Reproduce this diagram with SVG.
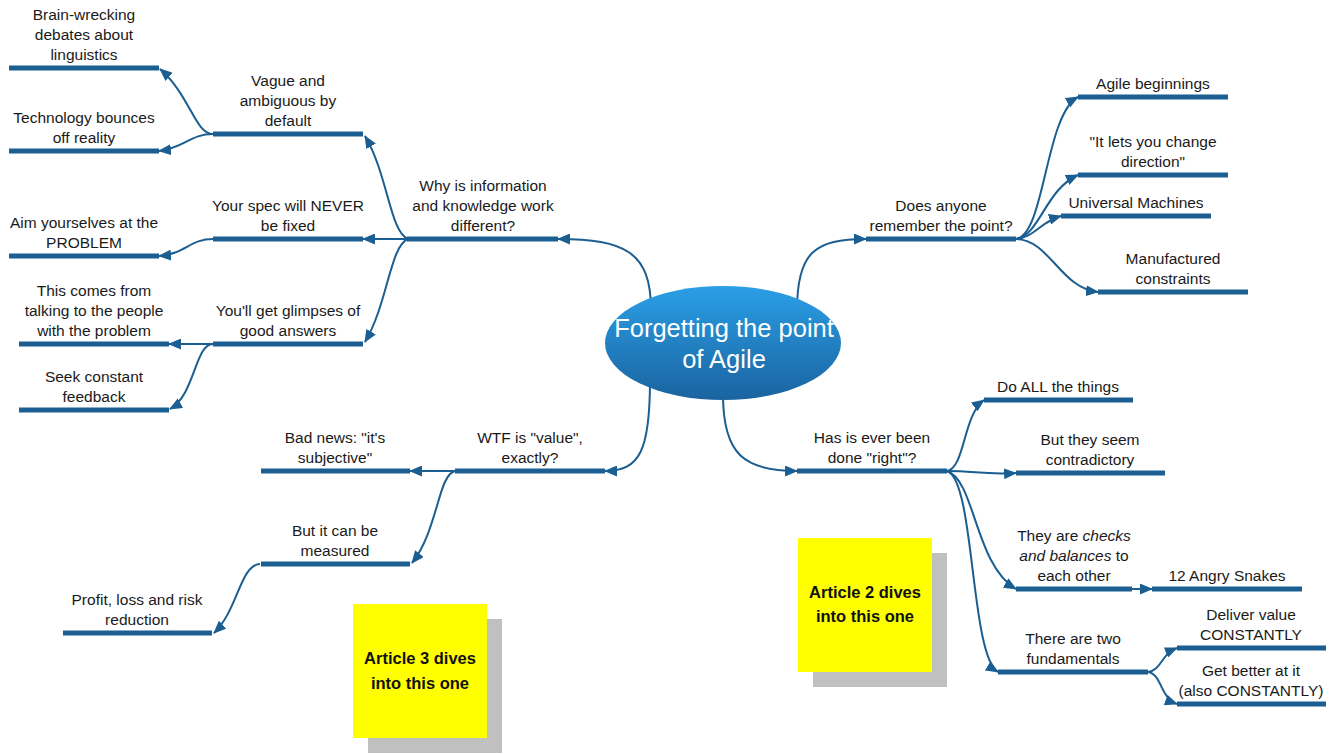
<svg xmlns="http://www.w3.org/2000/svg" width="1330" height="754" viewBox="0 0 1330 754">
<defs>
<linearGradient id="cg" x1="0" y1="0" x2="0" y2="1">
<stop offset="0" stop-color="#2b9fe6"/>
<stop offset="1" stop-color="#1a63a0"/>
</linearGradient>
<marker id="ah" viewBox="0 0 13 11" refX="12" refY="5.5" markerWidth="13" markerHeight="11" markerUnits="userSpaceOnUse" orient="auto">
<path d="M0,0 L13,5.5 L0,11 z" fill="#1b5e91"/>
</marker>
<style>
.c{fill:none;stroke:#1b5e91;stroke-width:2;marker-end:url(#ah)}
.b{stroke:#1b5e91;stroke-width:5}
.t{font-family:"Liberation Sans",Arial,sans-serif;font-size:15.5px;fill:#1a1a1a;text-anchor:middle}
.n{font-family:"Liberation Sans",Arial,sans-serif;font-size:16.5px;font-weight:bold;fill:#111;text-anchor:middle}
</style>
</defs>
<rect width="1330" height="754" fill="#fff"/>

<g id="connectors">
<path class="c" d="M651,310 C651,252 625,239 558,239"/>
<path class="c" d="M797,310 C797,252 815,239 866,239"/>
<path class="c" d="M650,380 C650,450 640,471 605,471"/>
<path class="c" d="M723,395 C723,455 745,471 797,471"/>
<path class="c" d="M408,239 C390,232 388,175 365,136"/>
<path class="c" d="M408,239 L363,239"/>
<path class="c" d="M408,239 C390,246 388,303 365,342"/>
<path class="c" d="M213,134 C195,134 190,95 160,69"/>
<path class="c" d="M213,134 C190,134 185,148 159,151"/>
<path class="c" d="M213,239 C190,239 185,254 159,256"/>
<path class="c" d="M213,344 L169,344"/>
<path class="c" d="M213,344 C195,344 195,395 170,409"/>
<path class="c" d="M455,471 L410,471"/>
<path class="c" d="M455,471 C438,475 438,530 412,563"/>
<path class="c" d="M260,564 C240,565 238,610 214,633"/>
<path class="c" d="M1016,239 C1045,235 1045,115 1078,97"/>
<path class="c" d="M1016,239 C1040,235 1045,190 1078,175"/>
<path class="c" d="M1016,239 C1035,237 1040,222 1061,216"/>
<path class="c" d="M1016,239 C1050,240 1060,288 1098,292"/>
<path class="c" d="M947,471 C965,468 963,415 984,400"/>
<path class="c" d="M947,471 C975,471 985,475 1016,473"/>
<path class="c" d="M947,471 C975,480 975,565 1016,589"/>
<path class="c" d="M947,471 C975,480 970,655 998,672"/>
<path class="c" d="M1132,589 L1152,589"/>
<path class="c" d="M1148,672 C1162,670 1160,655 1177,648"/>
<path class="c" d="M1148,672 C1162,674 1160,698 1177,704"/>
</g>

<g id="center">
<ellipse cx="723" cy="343" rx="118" ry="57" fill="url(#cg)"/>
<text x="724" y="337" font-family="Liberation Sans,Arial,sans-serif" font-size="25.5" fill="#fff" text-anchor="middle">Forgetting the point</text>
<text x="724" y="368" font-family="Liberation Sans,Arial,sans-serif" font-size="25.5" fill="#fff" text-anchor="middle">of Agile</text>
</g>

<g id="n-why"><line class="b" x1="407" y1="239" x2="558" y2="239"/>
<text class="t" x="483" y="191">Why is information</text><text class="t" x="483" y="211">and knowledge work</text><text class="t" x="483" y="231">different?</text></g>

<g id="n-vague"><line class="b" x1="213" y1="134" x2="363" y2="134"/>
<text class="t" x="288" y="86">Vague and</text><text class="t" x="288" y="106">ambiguous by</text><text class="t" x="288" y="126">default</text></g>

<g id="n-brain"><line class="b" x1="9" y1="68" x2="159" y2="68"/>
<text class="t" x="84" y="20">Brain-wrecking</text><text class="t" x="84" y="40">debates about</text><text class="t" x="84" y="60">linguistics</text></g>

<g id="n-tech"><line class="b" x1="9" y1="151" x2="159" y2="151"/>
<text class="t" x="84" y="123">Technology bounces</text><text class="t" x="84" y="143">off reality</text></g>

<g id="n-spec"><line class="b" x1="213" y1="239" x2="363" y2="239"/>
<text class="t" x="288" y="211">Your spec will NEVER</text><text class="t" x="288" y="231">be fixed</text></g>

<g id="n-aim"><line class="b" x1="9" y1="256" x2="159" y2="256"/>
<text class="t" x="84" y="228">Aim yourselves at the</text><text class="t" x="84" y="248">PROBLEM</text></g>

<g id="n-glimpses"><line class="b" x1="213" y1="344" x2="363" y2="344"/>
<text class="t" x="288" y="316">You'll get glimpses of</text><text class="t" x="288" y="336">good answers</text></g>

<g id="n-talking"><line class="b" x1="19" y1="344" x2="169" y2="344"/>
<text class="t" x="94" y="296">This comes from</text><text class="t" x="94" y="316">talking to the people</text><text class="t" x="94" y="336">with the problem</text></g>

<g id="n-feedback"><line class="b" x1="19" y1="410" x2="169" y2="410"/>
<text class="t" x="94" y="382">Seek constant</text><text class="t" x="94" y="402">feedback</text></g>

<g id="n-wtf"><line class="b" x1="455" y1="471" x2="605" y2="471"/>
<text class="t" x="530" y="443">WTF is "value",</text><text class="t" x="530" y="463">exactly?</text></g>

<g id="n-bad"><line class="b" x1="261" y1="471" x2="410" y2="471"/>
<text class="t" x="335" y="443">Bad news: "it's</text><text class="t" x="335" y="463">subjective"</text></g>

<g id="n-measured"><line class="b" x1="261" y1="564" x2="410" y2="564"/>
<text class="t" x="335" y="536">But it can be</text><text class="t" x="335" y="556">measured</text></g>

<g id="n-profit"><line class="b" x1="63" y1="633" x2="212" y2="633"/>
<text class="t" x="137" y="605">Profit, loss and risk</text><text class="t" x="137" y="625">reduction</text></g>

<g id="n-remember"><line class="b" x1="866" y1="239" x2="1016" y2="239"/>
<text class="t" x="941" y="211">Does anyone</text><text class="t" x="941" y="231">remember the point?</text></g>

<g id="n-beginnings"><line class="b" x1="1078" y1="97" x2="1228" y2="97"/>
<text class="t" x="1153" y="89">Agile beginnings</text></g>

<g id="n-direction"><line class="b" x1="1078" y1="175" x2="1228" y2="175"/>
<text class="t" x="1153" y="147">"It lets you change</text><text class="t" x="1153" y="167">direction"</text></g>

<g id="n-universal"><line class="b" x1="1061" y1="216" x2="1211" y2="216"/>
<text class="t" x="1136" y="208">Universal Machines</text></g>

<g id="n-manufactured"><line class="b" x1="1098" y1="292" x2="1248" y2="292"/>
<text class="t" x="1173" y="264">Manufactured</text><text class="t" x="1173" y="284">constraints</text></g>

<g id="n-right"><line class="b" x1="797" y1="471" x2="947" y2="471"/>
<text class="t" x="872" y="443">Has is ever been</text><text class="t" x="872" y="463">done "right"?</text></g>

<g id="n-all"><line class="b" x1="984" y1="400" x2="1133" y2="400"/>
<text class="t" x="1058" y="392">Do ALL the things</text></g>

<g id="n-contradictory"><line class="b" x1="1016" y1="473" x2="1165" y2="473"/>
<text class="t" x="1090" y="445">But they seem</text><text class="t" x="1090" y="465">contradictory</text></g>

<g id="n-checks"><line class="b" x1="1016" y1="589" x2="1132" y2="589"/>
<text class="t" x="1074" y="541">They are <tspan font-style="italic">checks</tspan></text><text class="t" x="1074" y="561"><tspan font-style="italic">and balances</tspan> to</text><text class="t" x="1074" y="581">each other</text></g>

<g id="n-snakes"><line class="b" x1="1152" y1="589" x2="1302" y2="589"/>
<text class="t" x="1227" y="581">12 Angry Snakes</text></g>

<g id="n-fundamentals"><line class="b" x1="998" y1="672" x2="1148" y2="672"/>
<text class="t" x="1073" y="644">There are two</text><text class="t" x="1073" y="664">fundamentals</text></g>

<g id="n-deliver"><line class="b" x1="1177" y1="648" x2="1326" y2="648"/>
<text class="t" x="1251" y="620">Deliver value</text><text class="t" x="1251" y="640">CONSTANTLY</text></g>

<g id="n-better"><line class="b" x1="1177" y1="704" x2="1326" y2="704"/>
<text class="t" x="1251" y="676">Get better at it</text><text class="t" x="1251" y="696">(also CONSTANTLY)</text></g>

<g id="note-2">
<rect x="813" y="553" width="134" height="134" fill="#c0c0c0"/>
<rect x="798" y="538" width="134" height="134" fill="#ffff00"/>
<text class="n" x="865" y="598">Article 2 dives</text><text class="n" x="865" y="622">into this one</text>
</g>

<g id="note-3">
<rect x="368" y="619" width="134" height="134" fill="#c0c0c0"/>
<rect x="353" y="604" width="134" height="134" fill="#ffff00"/>
<text class="n" x="420" y="664">Article 3 dives</text><text class="n" x="420" y="689">into this one</text>
</g>
</svg>
